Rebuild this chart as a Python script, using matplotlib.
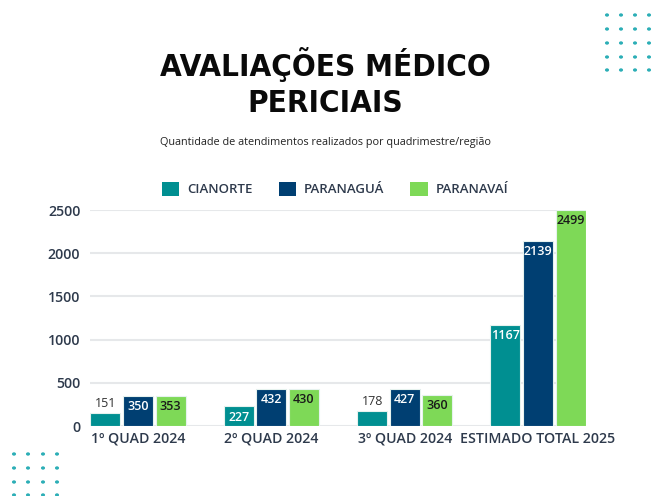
import matplotlib
matplotlib.use("Agg")
import matplotlib.pyplot as plt
from matplotlib.patches import Patch
from matplotlib import font_manager as fm
import numpy as np

categories = ["1º QUAD 2024", "2º QUAD 2024", "3º QUAD 2024", "ESTIMADO TOTAL 2025"]
series_names = ["CIANORTE", "PARANAGUÁ", "PARANAVAÍ"]
cianorte = [151, 227, 178, 1167]
paranagua = [350, 432, 427, 2139]
paranavai = [353, 430, 360, 2499]
y_ticks = [0, 500, 1000, 1500, 2000, 2500]

colors = ["#008f91", "#003f72", "#7ed957"]
label_colors = ["#ffffff", "#ffffff", "#1a1a1a"]
tick_color = "#2e3a4c"

# pick a condensed heavy font for the title if one is installed
title_font = None
for f in fm.fontManager.ttflist:
    if "condensed" in str(f.stretch).lower() or "Condensed" in f.fname or "Narrow" in f.name:
        if f.weight in ("bold", 700, "heavy", 800, 900, "black"):
            title_font = f.fname
            break
if title_font:
    title_kw = dict(fontproperties=fm.FontProperties(fname=title_font, size=22.5))
else:
    title_kw = dict(fontsize=20, fontweight="bold", family="DejaVu Sans")

fig = plt.figure(figsize=(6.51, 4.96), dpi=100)
fig.patch.set_facecolor("white")
ax = fig.add_axes([90/651, 1-426/496, 496/651, 216/496])

x = np.arange(len(categories))
w = 0.225
step = 0.244
all_series = [cianorte, paranagua, paranavai]
for i, (vals, c) in enumerate(zip(all_series, colors)):
    pos = x + (i - 1) * step
    bars = ax.bar(pos, vals, width=w, color=c, edgecolor="#e6f2ee", linewidth=0.8, zorder=3)
    for b, v in zip(bars, vals):
        cx = b.get_x() + b.get_width() / 2
        if v > 200:
            ax.annotate(str(v), (cx, v), xytext=(0, -3), textcoords="offset points",
                        ha="center", va="top", fontsize=9, color=label_colors[i],
                        family="Open Sans", fontweight="semibold", zorder=4)
        else:
            ax.annotate(str(v), (cx, v), xytext=(0, 2), textcoords="offset points",
                        ha="center", va="bottom", fontsize=9, color="#333333",
                        family="Open Sans", zorder=4)

ax.set_xlim(-0.36, 3.36)
ax.set_ylim(0, 2500)
ax.set_yticks(y_ticks)
ax.set_yticklabels([str(t) for t in y_ticks])
ax.set_xticks(x)
ax.set_xticklabels(categories)
for lab in ax.get_yticklabels() + ax.get_xticklabels():
    lab.set_family("Open Sans")
    lab.set_fontweight("semibold")
    lab.set_fontsize(10.2)
    lab.set_color(tick_color)
ax.tick_params(axis="both", length=0)
ax.tick_params(axis="y", pad=7)
ax.tick_params(axis="x", pad=4)
ax.grid(axis="y", color="#e6e8ea", linewidth=1.5, zorder=0)
for s in ax.spines.values():
    s.set_visible(False)

# Title and subtitle
fig.text(0.5, 1-65/496, "AVALIAÇÕES MÉDICO", ha="center", va="center",
         color="#0a0a0a", **title_kw)
fig.text(0.5, 1-103/496, "PERICIAIS", ha="center", va="center",
         color="#0a0a0a", **title_kw)
fig.text(0.5, 1-143/496, "Quantidade de atendimentos realizados por quadrimestre/região",
         ha="center", va="center", fontsize=7.8, family="Open Sans", color="#222222")

handles = [Patch(facecolor=c, edgecolor="none") for c in colors]
leg = fig.legend(handles, series_names, loc="center", bbox_to_anchor=(335/651, 1-189/496),
                 ncol=3, frameon=False, handlelength=1.3, handleheight=1.3,
                 columnspacing=2.0, handletextpad=0.6,
                 prop={"family": "Open Sans", "size": 9.5, "weight": "semibold"})
for t in leg.get_texts():
    t.set_color(tick_color)

# Decorative dots
dot_color = "#2aaeb6"
tx = [607, 621, 635, 649]
ty = [15, 29, 43, 57, 70]
bx = [14, 28, 43, 57]
by = [454, 468, 482, 495]
for px in tx:
    for py in ty:
        fig.patches.append(plt.Circle((px/651, 1-py/496), 1.3/651, transform=fig.transFigure,
                                      color=dot_color, figure=fig))
for px in bx:
    for py in by:
        fig.patches.append(plt.Circle((px/651, 1-py/496), 1.3/651, transform=fig.transFigure,
                                      color=dot_color, figure=fig))

fig.savefig("out.png", dpi=100)
